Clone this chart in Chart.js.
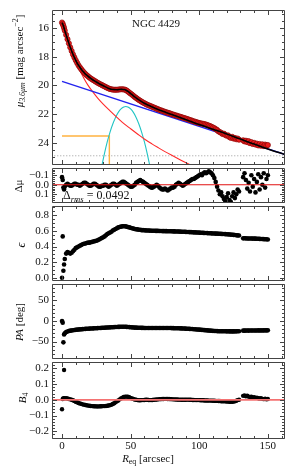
<!DOCTYPE html>
<html>
<head>
<meta charset="utf-8">
<script src="https://cdn.jsdelivr.net/npm/chart.js@4.4.1/dist/chart.umd.min.js"></script>
<style>
body { margin:0; background:#fff; width:293px; height:471px; overflow:hidden; position:relative; }
canvas { position:absolute; left:0; }
</style>
</head>
<body>
<canvas id="pMu" width="293" height="174" style="top:0px;width:293px;height:174px"></canvas>
<canvas id="pRes" width="293" height="54" style="top:158px;width:293px;height:54px"></canvas>
<canvas id="pEll" width="293" height="94" style="top:196px;width:293px;height:94px"></canvas>
<canvas id="pPA" width="293" height="94" style="top:274px;width:293px;height:94px"></canvas>
<canvas id="pB4" width="293" height="119" style="top:352px;width:293px;height:119px"></canvas>
<script>
// radii of the isophotes (arcsec)
var R = [0,0.5,1,1.5,
 2,3,4,5,6,7,8,9,
 10,11,12,13,14,15,16,17,18,19,
 20,21,22,23,24,25,26,27,28,29,
 30,31,32,33,34,35,36,37,38,39,
 40,41,42,43,44,45,46,47,48,49,
 50,51,52,53,54,55,56,57,58,59,
 60,61,62,63,64,65,66,67,68,69,
 70,71,72,73,74,75,76,77,78,79,
 80,81,82,83,84,85,86,87,88,89,
 90,91,92,93,94,95,96,97,98,99,
 100,101,102,103,104,105,106,107,108,109,
 110,111,112,113,114,115,116,117,118,119,
 120,121,122,123,124,125,126,127,128,129,
 132,133,134,135,136,137,138,139,140,141,
 142,143,144,145,146,147,148,149,150];

// surface brightness (mag arcsec^-2)
var mu = [15.62,15.72,15.85,16.0,
 16.18,16.48,16.78,17.07,17.35,17.6,17.84,18.05,
 18.25,18.43,18.6,18.74,18.87,18.99,19.1,19.2,19.29,19.37,
 19.45,19.52,19.58,19.64,19.7,19.76,19.82,19.87,19.92,19.97,
 20.02,20.07,20.12,20.17,20.21,20.25,20.27,20.29,20.3,20.3,
 20.3,20.29,20.28,20.27,20.27,20.28,20.3,20.35,20.42,20.5,
 20.57,20.64,20.72,20.8,20.87,20.94,21.01,21.07,21.13,21.19,
 21.24,21.29,21.34,21.38,21.42,21.46,21.5,21.54,21.58,21.62,
 21.66,21.7,21.73,21.77,21.8,21.84,21.87,21.9,21.93,21.96,
 22.0,22.03,22.06,22.09,22.12,22.15,22.18,22.21,22.24,22.27,
 22.3,22.33,22.37,22.4,22.43,22.47,22.5,22.53,22.56,22.59,
 22.62,22.64,22.66,22.68,22.7,22.73,22.76,22.8,22.84,22.88,
 22.93,22.98,23.04,23.1,23.2,23.25,23.3,23.38,23.36,23.45,
 23.5,23.48,23.6,23.65,23.58,23.7,23.66,23.75,23.7,23.78,
 23.82,23.9,23.85,23.95,23.88,24.02,23.95,24.08,24.0,24.12,
 24.05,24.18,24.08,24.2,24.1,24.22,24.12,24.18,24.15];

// residuals
var dMu = [-0.08,-0.05,0.03,0.05,
 0.02,0.0,-0.01,0.0,0.01,0.01,0.0,-0.01,
 -0.01,0.0,0.0,0.01,0.0,-0.01,-0.02,-0.02,-0.01,0.0,
 0.01,0.01,0.0,-0.01,-0.01,0.0,0.01,0.02,0.02,0.01,
 0.01,0.0,0.0,0.01,0.02,0.01,0.0,-0.01,-0.01,0.0,
 0.01,0.0,-0.01,-0.02,-0.03,-0.03,-0.02,-0.01,0.0,0.01,
 0.02,0.02,0.01,0.0,-0.02,-0.03,-0.04,-0.05,-0.04,-0.03,
 -0.02,-0.01,0.0,0.01,0.02,0.03,0.03,0.02,0.01,0.0,
 0.01,0.03,0.04,0.05,0.05,0.04,0.05,0.06,0.05,0.04,
 0.03,0.03,0.02,0.0,-0.01,-0.02,-0.01,0.0,0.01,0.0,
 -0.01,-0.02,-0.03,-0.04,-0.05,-0.06,-0.06,-0.07,-0.08,-0.09,
 -0.1,-0.11,-0.1,-0.12,-0.13,-0.12,-0.13,-0.14,-0.13,-0.12,
 -0.1,-0.07,-0.03,0.02,0.06,0.1,0.08,0.12,0.15,0.17,
 0.13,0.09,0.16,0.18,0.12,0.08,0.14,0.1,0.05,0.07,
 -0.08,-0.12,-0.05,0.04,-0.02,0.07,-0.1,0.02,-0.06,0.08,
 -0.03,-0.11,0.05,-0.08,0.0,-0.12,0.03,-0.06,-0.1];

// ellipticity
var ell = [0.0,0.53,0.09,0.17,
 0.24,0.31,0.33,0.32,0.31,0.32,0.34,0.36,
 0.38,0.39,0.40,0.41,0.42,0.43,0.435,0.44,0.445,0.45,
 0.45,0.455,0.46,0.465,0.47,0.475,0.48,0.49,0.50,0.51,
 0.52,0.53,0.545,0.56,0.57,0.58,0.59,0.605,0.615,0.625,
 0.635,0.645,0.65,0.655,0.66,0.66,0.66,0.655,0.65,0.645,
 0.64,0.635,0.63,0.625,0.62,0.62,0.615,0.615,0.61,0.61,
 0.608,0.607,0.606,0.605,0.604,0.603,0.603,0.602,0.601,0.6,
 0.6,0.599,0.599,0.598,0.598,0.597,0.597,0.596,0.596,0.595,
 0.595,0.594,0.594,0.593,0.592,0.592,0.591,0.59,0.59,0.589,
 0.588,0.587,0.586,0.585,0.584,0.583,0.582,0.581,0.58,0.579,
 0.578,0.577,0.576,0.575,0.574,0.573,0.572,0.571,0.57,0.569,
 0.568,0.567,0.566,0.565,0.564,0.563,0.562,0.561,0.56,0.559,
 0.558,0.556,0.555,0.553,0.551,0.549,0.547,0.545,0.543,0.541,
 0.505,0.506,0.505,0.504,0.504,0.503,0.503,0.502,0.502,0.501,
 0.5,0.499,0.498,0.497,0.496,0.495,0.494,0.493,0.49];

// position angle (deg)
var pa = [0,-4,-52,-33,
 -30,-27,-25.5,-24.5,-23.5,-23,-22.5,-22,
 -21.5,-21,-20.7,-20.4,-20.1,-19.8,-19.5,-19.2,-19,-18.7,
 -18.5,-18.3,-18.1,-17.9,-17.7,-17.5,-17.3,-17.1,-16.9,-16.7,
 -16.5,-16.3,-16.1,-15.9,-15.7,-15.5,-15.3,-15.1,-14.9,-14.7,
 -14.5,-14.3,-14.2,-14.1,-14,-14,-14.1,-14.3,-14.6,-14.9,
 -15.2,-15.5,-15.8,-16,-16.2,-16.4,-16.5,-16.6,-16.7,-16.8,
 -16.9,-17,-17,-17.1,-17.1,-17,-17,-16.9,-16.9,-17,
 -17,-17.1,-17.1,-17,-17,-16.9,-17,-17,-17.1,-17.2,
 -17.3,-17.4,-17.5,-17.6,-17.7,-17.8,-17.9,-18,-18.2,-18.4,
 -18.6,-18.8,-19,-19.2,-19.4,-19.6,-19.9,-20.2,-20.5,-20.8,
 -21.1,-21.4,-21.7,-22,-22.3,-22.6,-22.9,-23.2,-23.5,-23.8,
 -24,-24.2,-24.4,-24.6,-24.8,-24.9,-25,-25,-25.1,-25.1,
 -25.2,-25.2,-25.2,-25.3,-25.3,-25.3,-25.2,-25.2,-25.1,-25,
 -23.5,-23.3,-23.4,-23.2,-23.3,-23.1,-23.2,-23,-23.1,-23,
 -23.1,-22.9,-23,-22.9,-23,-22.8,-22.9,-22.8,-22.7];

// B4 coefficient
var b4 = [-0.06,0.005,0.01,0.19,
 0.01,0.01,0.008,0.005,0.003,0.0,-0.003,-0.008,
 -0.012,-0.016,-0.02,-0.023,-0.026,-0.029,-0.031,-0.033,-0.035,-0.037,
 -0.038,-0.039,-0.04,-0.041,-0.041,-0.042,-0.042,-0.042,-0.041,-0.041,
 -0.04,-0.04,-0.039,-0.038,-0.036,-0.034,-0.031,-0.027,-0.022,-0.016,
 -0.01,-0.004,0.003,0.009,0.014,0.018,0.02,0.02,0.019,0.016,
 0.012,0.008,0.005,0.002,0.0,-0.002,-0.003,-0.003,-0.002,-0.002,
 -0.001,0.0,0.0,-0.001,-0.002,-0.002,-0.001,0.0,0.001,0.002,
 0.003,0.004,0.004,0.005,0.005,0.006,0.006,0.005,0.005,0.004,
 0.004,0.003,0.003,0.002,0.002,0.001,0.001,0.0,0.0,0.0,
 0.0,0.001,0.001,0.0,0.0,-0.001,-0.001,-0.002,-0.002,-0.002,
 -0.002,-0.003,-0.003,-0.003,-0.004,-0.004,-0.004,-0.005,-0.005,-0.005,
 -0.006,-0.006,-0.007,-0.007,-0.008,-0.008,-0.009,-0.009,-0.01,-0.01,
 -0.011,-0.011,-0.012,-0.012,-0.012,-0.011,-0.01,-0.006,-0.002,0.0,
 0.025,0.028,0.022,0.026,0.02,0.018,0.02,0.015,0.016,0.012,
 0.014,0.01,0.008,0.01,0.006,0.004,0.007,0.003,0.005];

// fitted components
var modelR  = [0,1,2,4,6,8,10,12,15,18,21,25,30,34,37,40,43,46,48,50,53,56,60,65,70,80,90,100,110,120,130,140,150,163];
var modelMu = [15.62,15.85,16.18,16.78,17.35,17.84,18.25,18.6,18.99,19.29,19.52,19.76,20.02,20.21,20.29,20.3,20.27,20.3,20.42,20.57,20.8,21.01,21.24,21.47,21.68,22.03,22.37,22.72,23.05,23.38,23.74,24.08,24.42,24.83];
var diskR  = [0,163];
var diskMu = [19.72,24.83];
var bulgeR  = [0,2,4,6,8,10,13,16,19,22,26,30,35,40,44,50,55,60,65.5,70,75,80,85,90,95];
var bulgeMu = [15.62,16.22,16.78,17.32,17.83,18.3,18.95,19.52,20.0,20.4,20.88,21.3,21.77,22.22,22.57,23.02,23.38,23.73,24.07,24.33,24.61,24.87,25.12,25.37,25.61];
var ringR  = [29,31,33,35,37,39,41,43,45,46.5,48,50,52,54,56,58,60,62,64];
var ringMu = [25.6,24.71,23.92,23.25,22.69,22.23,21.88,21.64,21.5,21.47,21.5,21.64,21.88,22.23,22.69,23.25,23.92,24.71,25.6];
var barR  = [0,34.5,34.5];
var barMu = [23.52,23.52,26];
var limitMu = 24.9;

// axes
var xMin = -7.3, xMax = 162.5;
var xTicks = [0,50,100,150];
var muTicks = [16,18,20,22,24];
var resTicks = [-0.1,0.0,0.1];
var ellTicks = [0.0,0.2,0.4,0.6,0.8];
var paTicks = [-50,0,50];
var b4Ticks = [-0.2,-0.1,0.0,0.1,0.2];

var FAMILY = '"Liberation Serif", "DejaVu Serif", serif';
Chart.defaults.font.family = FAMILY;
Chart.defaults.font.size = 11;
Chart.defaults.color = '#111';

function pts(xs, ys) {
  return xs.map(function (x, i) { return { x: x, y: ys[i] }; });
}
function fmt(d) {
  return function (v) { return (v < 0 ? '\u2212' : '') + Math.abs(v).toFixed(d); };
}
function steps(a, b, d) {
  var out = [];
  for (var v = a; v <= b + 1e-9; v += d) out.push(+v.toFixed(4));
  return out;
}

function rich(ctx, parts, x, y, size, opt) {
  ctx.save();
  ctx.translate(x, y);
  if (opt.rot) ctx.rotate(-Math.PI / 2);
  var items = parts.map(function (p) {
    var fs = (p.sub || p.sup) ? size * 0.72 : size;
    var font = (p.i ? 'italic ' : '') + fs + 'px ' + FAMILY;
    ctx.font = font;
    return { t: p.t, font: font, w: ctx.measureText(p.t).width,
             dy: p.sub ? size * 0.22 : (p.sup ? -size * 0.42 : 0) };
  });
  var total = items.reduce(function (s, it) { return s + it.w; }, 0);
  var cx = opt.align === 'center' ? -total / 2 : 0;
  var base = opt.rot ? size * 0.33 : 0;
  ctx.fillStyle = '#111';
  ctx.textBaseline = 'alphabetic';
  items.forEach(function (it) {
    ctx.font = it.font;
    ctx.fillText(it.t, cx, base + it.dy);
    cx += it.w;
  });
  ctx.restore();
}

// box with inward ticks on all four sides, plus labels
function frame(p) {
  return {
    id: 'frame_' + p.id,
    afterDraw: function (chart) {
      var ctx = chart.ctx, a = chart.chartArea;
      var xs = chart.scales.x, ys = chart.scales.y;
      var L = Math.round(a.left) + 0.5, Rt = Math.round(a.right) - 0.5;
      var T = Math.round(a.top) + 0.5, B = Math.round(a.bottom) + 0.5;
      ctx.save();
      ctx.strokeStyle = '#444';
      ctx.lineWidth = 1;
      ctx.beginPath();
      function xt(list, len) {
        list.forEach(function (v) {
          if (v < xs.min || v > xs.max) return;
          var px = Math.round(xs.getPixelForValue(v)) + 0.5;
          ctx.moveTo(px, T); ctx.lineTo(px, T + len);
          ctx.moveTo(px, B); ctx.lineTo(px, B - len);
        });
      }
      function yt(list, len) {
        list.forEach(function (v) {
          if (v < ys.min || v > ys.max) return;
          var py = Math.round(ys.getPixelForValue(v)) + 0.5;
          ctx.moveTo(L, py); ctx.lineTo(L + len, py);
          ctx.moveTo(Rt, py); ctx.lineTo(Rt - len, py);
        });
      }
      xt(steps(0, 160, 10), 2.5);
      xt(xTicks, 4.5);
      yt(p.yMinor, 2.5);
      yt(p.yTicks, 4.5);
      ctx.stroke();
      ctx.beginPath();
      ctx.moveTo(L, T); ctx.lineTo(Rt, T); ctx.lineTo(Rt, B); ctx.lineTo(L, B); ctx.closePath();
      ctx.stroke();
      ctx.restore();
      (p.texts || []).forEach(function (t) {
        rich(ctx, t.parts, t.x, t.y - p.top, t.size || 11, t);
      });
    }
  };
}

function panel(p) {
  var el = document.getElementById(p.id);
  return new Chart(el, {
    type: 'scatter',
    data: { datasets: p.datasets },
    options: {
      responsive: false,
      maintainAspectRatio: false,
      animation: false,
      devicePixelRatio: 1,
      events: [],
      layout: { padding: { left: 0, right: 8, top: p.padTop, bottom: p.padBottom } },
      plugins: { legend: { display: false }, tooltip: { enabled: false } },
      scales: {
        x: {
          type: 'linear', min: xMin, max: xMax, display: !!p.showX,
          grid: { display: false, drawTicks: false }, border: { display: false },
          ticks: { padding: 2, callback: fmt(0) },
          afterBuildTicks: function (s) { s.ticks = xTicks.map(function (v) { return { value: v }; }); },
          afterFit: function (s) { s.height = p.showX ? 33 : 0; }
        },
        y: {
          type: 'linear', min: p.yMin, max: p.yMax, reverse: !!p.reverse,
          grid: { display: false, drawTicks: false }, border: { display: false },
          ticks: { padding: 3, callback: p.fmt },
          afterBuildTicks: function (s) { s.ticks = p.yTicks.map(function (v) { return { value: v }; }); },
          afterFit: function (s) { s.width = 52; }
        }
      }
    },
    plugins: [frame(p)]
  });
}

function dots(data, color, r) {
  return { data: data, showLine: false, pointRadius: r, pointBackgroundColor: color,
           pointBorderWidth: 0, clip: 0 };
}
function curve(data, color, w, extra) {
  var d = { data: data, showLine: true, pointRadius: 0, borderColor: color, borderWidth: w,
            cubicInterpolationMode: 'monotone', clip: 0 };
  for (var k in extra) d[k] = extra[k];
  return d;
}

// surface brightness profile
panel({
  id: 'pMu', top: 0, padTop: 10, padBottom: 8,
  yMin: 14.75, yMax: 25.5, reverse: true, yTicks: muTicks, yMinor: steps(15, 25.5, 0.5), fmt: fmt(0),
  datasets: [
    curve(pts(modelR, modelMu), '#000', 1.6),
    { data: pts(R, mu), showLine: false, pointRadius: 2.6, pointBackgroundColor: '#ee1c1c',
      pointBorderColor: '#8a0808', pointBorderWidth: 0.7, clip: 0 },
    curve(pts(diskR, diskMu), '#2222ee', 1.3),
    curve(pts(bulgeR, bulgeMu), '#ff2a2a', 1.1),
    curve(pts(ringR, ringMu), '#22c4c4', 1.1),
    curve(pts(barR, barMu), '#ffb340', 1.4, { cubicInterpolationMode: 'default', tension: 0 }),
    curve([{ x: -10, y: limitMu }, { x: 170, y: limitMu }], '#999', 1, { borderDash: [1, 2] })
  ],
  texts: [
    { parts: [{ t: 'μ', i: 1 }, { t: '3.6μm', i: 1, sub: 1 }, { t: ' [mag arcsec' }, { t: '\u22122', sup: 1 }, { t: ']' }],
      x: 19, y: 61, rot: 1, align: 'center', size: 11 },
    { parts: [{ t: 'NGC 4429' }], x: 156, y: 27, align: 'center', size: 11 }
  ]
});

// residuals
panel({
  id: 'pRes', top: 158, padTop: 8, padBottom: 8,
  yMin: -0.18, yMax: 0.185, reverse: true, yTicks: resTicks, yMinor: steps(-0.16, 0.18, 0.02), fmt: fmt(1),
  datasets: [
    curve([{ x: -10, y: 0 }, { x: 170, y: 0 }], '#e01010', 1.2),
    dots(pts(R, dMu), '#000', 2.3)
  ],
  texts: [
    { parts: [{ t: 'Δμ', i: 0 }], x: 18, y: 186, rot: 1, align: 'center', size: 11 },
    { parts: [{ t: 'Δ' }, { t: 'rms', i: 1, sub: 1 }, { t: ' = 0.0492' }], x: 63, y: 199, align: 'left', size: 12 }
  ]
});

// ellipticity
panel({
  id: 'pEll', top: 196, padTop: 8, padBottom: 8,
  yMin: -0.033, yMax: 0.924, yTicks: ellTicks, yMinor: steps(0, 0.9, 0.05), fmt: fmt(1),
  datasets: [dots(pts(R, ell), '#000', 2.3)],
  texts: [{ parts: [{ t: 'ϵ', i: 1 }], x: 21, y: 245, rot: 1, align: 'center', size: 12 }]
});

// position angle
panel({
  id: 'pPA', top: 274, padTop: 8, padBottom: 8,
  yMin: -91, yMax: 91, yTicks: paTicks, yMinor: steps(-90, 90, 10), fmt: fmt(0),
  datasets: [dots(pts(R, pa), '#000', 2.3)],
  texts: [{ parts: [{ t: 'PA', i: 1 }, { t: ' [deg]' }], x: 19, y: 322, rot: 1, align: 'center', size: 11 }]
});

// B4
panel({
  id: 'pB4', top: 352, padTop: 8, padBottom: 0, showX: true,
  yMin: -0.243, yMax: 0.243, yTicks: b4Ticks, yMinor: steps(-0.24, 0.24, 0.02), fmt: fmt(1),
  datasets: [
    curve([{ x: -10, y: 0 }, { x: 170, y: 0 }], '#f47272', 1.8),
    dots(pts(R, b4), '#000', 2.2)
  ],
  texts: [
    { parts: [{ t: 'B', i: 1 }, { t: '4', sub: 1 }], x: 22, y: 398, rot: 1, align: 'center', size: 11 },
    { parts: [{ t: 'R', i: 1 }, { t: 'eq', sub: 1 }, { t: ' [arcsec]' }], x: 148, y: 462, align: 'center', size: 11 }
  ]
});
</script>
</body>
</html>
